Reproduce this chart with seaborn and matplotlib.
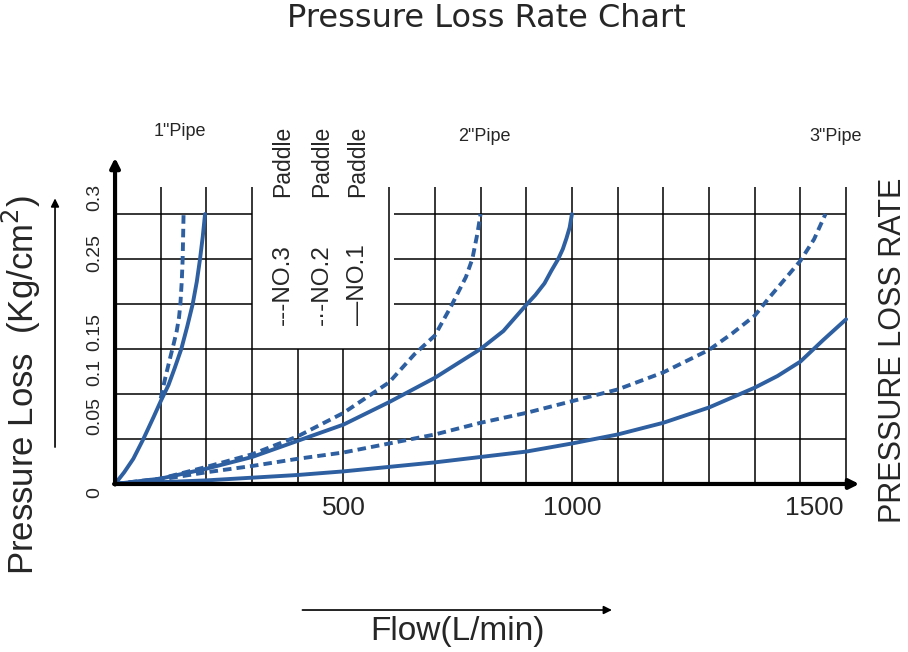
import pandas as pd
import matplotlib
matplotlib.use('Agg')
import matplotlib.pyplot as plt
import seaborn as sns

# --- data ---
p1_solid_x = [0, 20, 40, 62, 84, 100, 117, 130, 145, 158, 170, 179, 186, 192, 197]
p1_solid_y = [0, 0.013, 0.028, 0.05, 0.074, 0.092, 0.11, 0.128, 0.15, 0.175, 0.2, 0.225, 0.25, 0.275, 0.3]
p1_dash_x = [100, 110, 120, 128, 135, 140, 143, 146, 148, 149, 150]
p1_dash_y = [0.095, 0.118, 0.139, 0.155, 0.17, 0.185, 0.2, 0.225, 0.25, 0.275, 0.3]

p2_solid_x = [0, 100, 200, 300, 400, 500, 600, 700, 800, 850, 900, 920, 940, 955, 970, 980, 988, 995, 1000]
p2_solid_y = [0, 0.006, 0.017, 0.030, 0.048, 0.066, 0.091, 0.118, 0.150, 0.170, 0.199, 0.210, 0.223, 0.237,
              0.25, 0.261, 0.273, 0.285, 0.3]
p2_dash_x = [0, 100, 200, 300, 400, 500, 600, 655, 700, 735, 768, 782, 793, 800]
p2_dash_y = [0, 0.006, 0.019, 0.033, 0.053, 0.079, 0.113, 0.144, 0.165, 0.197, 0.23, 0.25, 0.278, 0.3]

p3_solid_x = [0, 100, 200, 300, 400, 500, 600, 700, 800, 900, 1000, 1100, 1200, 1300, 1400, 1450, 1500,
              1550, 1600]
p3_solid_y = [0, 0.002, 0.004, 0.007, 0.010, 0.014, 0.019, 0.024, 0.030, 0.036, 0.045, 0.055, 0.068, 0.085,
              0.107, 0.120, 0.136, 0.160, 0.183]
p3_dash_x = [0, 100, 200, 300, 400, 500, 600, 700, 800, 900, 1000, 1100, 1200, 1300, 1350, 1400, 1430, 1460,
             1500, 1530, 1555]
p3_dash_y = [0, 0.005, 0.013, 0.020, 0.028, 0.035, 0.045, 0.055, 0.068, 0.079, 0.092, 0.105, 0.124, 0.149,
             0.167, 0.187, 0.206, 0.224, 0.248, 0.272, 0.3]

x_tick_labels = ['500', '1000', '1500']
y_tick_labels = ['0', '0.05', '0.1', '0.15', '0.25', '0.3']
pipe_labels = ['1"Pipe', '2"Pipe', '3"Pipe']
paddle_labels = ['---NO.3', '-·-NO.2', '—NO.1']

curves = [
    ('1in solid', 'solid', p1_solid_x, p1_solid_y),
    ('1in dash', 'dashed', p1_dash_x, p1_dash_y),
    ('2in solid', 'solid', p2_solid_x, p2_solid_y),
    ('2in dash', 'dashed', p2_dash_x, p2_dash_y),
    ('3in solid', 'solid', p3_solid_x, p3_solid_y),
    ('3in dash', 'dashed', p3_dash_x, p3_dash_y),
]
rows = []
for name, style, xs, ys in curves:
    for x, y in zip(xs, ys):
        rows.append({'curve': name, 'style': style, 'flow': x, 'loss': y})
df = pd.DataFrame(rows)

sns.set_style('white')
plt.rcParams['font.family'] = ['Liberation Sans', 'DejaVu Sans']

fig = plt.figure(figsize=(9.08, 6.52), dpi=100)
ax = fig.add_axes([0.1267, 0.2577, 0.8227, 0.5046])
ax.set_xlim(0, 1635)
ax.set_ylim(0, 0.3656)

# grid (drawn by hand: some lines are cut around the paddle labels)
full_v = [100, 200, 300] + list(range(600, 1700, 100))
ax.vlines(full_v, 0, 0.33, color='black', lw=1.1, zorder=1)
ax.vlines([400, 500], 0, 0.15, color='black', lw=1.1, zorder=1)
ax.hlines([0.05, 0.1, 0.15], 0, 1600, color='black', lw=1.1, zorder=1)
ax.hlines([0.2, 0.25, 0.3], 0, 300, color='black', lw=1.1, zorder=1)
ax.hlines([0.2, 0.25, 0.3], 610, 1600, color='black', lw=1.1, zorder=1)

sns.lineplot(data=df, x='flow', y='loss', units='curve', style='style',
             estimator=None, sort=False, color='#2e5fa0', lw=2.8,
             dashes={'solid': '', 'dashed': (2.2, 1.3)}, legend=False, ax=ax, zorder=3)

for s in ax.spines.values():
    s.set_visible(False)
ax.annotate('', xy=(0, 1), xytext=(0, -0.01), xycoords='axes fraction',
            arrowprops=dict(arrowstyle='-|>', lw=3, color='black', mutation_scale=14))
ax.annotate('', xy=(1, 0), xytext=(-0.005, 0), xycoords='axes fraction',
            arrowprops=dict(arrowstyle='-|>', lw=3, color='black', mutation_scale=14))

ax.set_xticks([500, 1000, 1530], x_tick_labels)
ax.tick_params(axis='x', length=0, pad=9, labelsize=19)
ax.set_yticks([])
for pos, lab in zip([-0.010, 0.0756, 0.1245, 0.1685, 0.2567, 0.3189], y_tick_labels):
    ax.text(-0.027, pos, lab, transform=ax.get_yaxis_transform(), rotation=90,
            ha='center', va='center', fontsize=14)
ax.set_xlabel('')
ax.set_ylabel('')

# paddle labels
for xf, lab in zip([0.3117, 0.3546, 0.3943], paddle_labels):
    fig.text(xf, 0.564, lab, rotation=90, ha='center', va='center', fontsize=17.5)
    fig.text(xf, 0.753, 'Paddle', rotation=90, ha='center', va='center', fontsize=16.5)

for (xf, yf), lab in zip([(0.198, 0.799), (0.533, 0.791), (0.920, 0.791)], pipe_labels):
    fig.text(xf, yf, lab, ha='center', va='center', fontsize=13)

fig.text(0.536, 0.972, 'Pressure Loss Rate Chart', ha='center', va='center', fontsize=23,
         family=['DejaVu Sans'])
fig.text(0.504, 0.031, 'Flow(L/min)', ha='center', va='center', fontsize=24)
fig.text(0.024, 0.41, 'Pressure Loss  (Kg/cm$^2$)', rotation=90, ha='center', va='center', fontsize=25)
fig.text(0.983, 0.463, 'PRESSURE LOSS RATE', rotation=90, ha='center', va='center', fontsize=22)

# helper arrows beside the axis titles
fig.add_artist(matplotlib.patches.FancyArrowPatch((0.0606, 0.31), (0.0606, 0.70), transform=fig.transFigure,
                                                  arrowstyle='-|>', mutation_scale=12, lw=1.2, color='black'))
fig.add_artist(matplotlib.patches.FancyArrowPatch((0.330, 0.0644), (0.677, 0.0644), transform=fig.transFigure,
                                                  arrowstyle='-|>', mutation_scale=12, lw=1.2, color='black'))

fig.savefig('out.png', dpi=100)
